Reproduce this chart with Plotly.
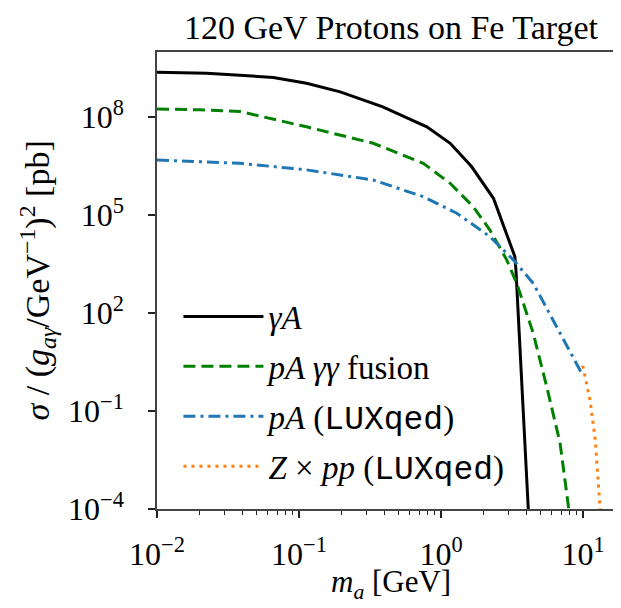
import plotly.graph_objects as go

# gamma A (photoproduction)
m_gammaA = [0.01, 0.0224, 0.066, 0.113, 0.195, 0.389, 0.794, 1.16, 1.64, 2.34, 3.31, 3.37, 4.23]
sig_gammaA = [2.4e9, 2.24e9, 1.66e9, 1.1e9, 6.0e8, 2.1e8, 5.1e7, 1.6e7, 3.1e6, 3.3e5, 5.4e3, 2.1e3, 1e-5]

# pA gamma-gamma fusion
m_pA_fus = [0.01, 0.02, 0.0385, 0.113, 0.333, 0.75, 1.16, 1.69, 2.21, 2.90, 3.41, 4.45, 5.55, 6.89, 7.89, 8.0]
sig_pA_fus = [1.8e8, 1.7e8, 1.5e8, 5.1e7, 1.6e7, 3.9e6, 9.5e5, 1.8e5, 3.5e4, 4.3e3, 830, 25, 0.56, 0.0105, 1.2e-4, 5e-5]

# pA (LUXqed)
m_pA_lux = [0.01, 0.0385, 0.113, 0.333, 0.75, 1.29, 2.21, 3.23, 4.47, 6.53, 8.55, 9.77]
sig_pA_lux = [4.9e6, 3.9e6, 2.45e6, 1.2e6, 3.7e5, 1.15e5, 2.2e4, 4.3e3, 810, 38, 4.7, 1.45]

# Z x pp (LUXqed)
m_Zpp = [9.95, 11.2, 12.2, 12.9, 13.2, 13.3]
sig_Zpp = [2.45, 0.22, 0.013, 4.8e-4, 1.5e-4, 6e-5]

x_ticks = [1e-2, 1e-1, 1, 10]
x_ticktext = ["10<sup>\u22122</sup>", "10<sup>\u22121</sup>", "10<sup>0</sup>", "10<sup>1</sup>"]
y_ticks = [1e-4, 1e-1, 1e2, 1e5, 1e8]
y_ticktext = ["10<sup>\u22124</sup>", "10<sup>\u22121</sup>", "10<sup>2</sup>", "10<sup>5</sup>", "10<sup>8</sup>"]

minor_x = [k * 10 ** e for e in range(-2, 2) for k in range(2, 10)]

SERIF = "Liberation Serif"
MONO = "Liberation Mono"
FS = 32

# page body has an 8px margin, so the figure is a bit smaller than the window
W, H = 605, 592
ML, MT, MB = 149, 44, 91
PW, PH = W - ML, H - MT - MB

def tt(s):
    return f"<span style='font-family:{MONO}'>{s}</span>"

fig = go.Figure()
fig.add_trace(go.Scatter(x=m_gammaA, y=sig_gammaA, mode="lines", name="<i>\u03b3A</i>",
                         line=dict(color="black", width=3), legendgroup="a"))
fig.add_trace(go.Scatter(x=m_pA_fus, y=sig_pA_fus, mode="lines", name="<i>pA \u03b3\u03b3</i> fusion",
                         line=dict(color="#008000", width=3, dash="12px,6px"), legendgroup="b"))
fig.add_trace(go.Scatter(x=m_pA_lux, y=sig_pA_lux, mode="lines", name="<i>pA</i> (" + tt("LUXqed") + ")",
                         line=dict(color="#1f77b4", width=3, dash="12px,5px,3px,5px"), legendgroup="c"))
fig.add_trace(go.Scatter(x=m_Zpp, y=sig_Zpp, mode="lines", name="<i>Z</i> \u00d7 <i>pp</i> (" + tt("LUXqed") + ")",
                         line=dict(color="#ff7f0e", width=3, dash="3px,5px"), legendgroup="d"))

axis_common = dict(type="log", showgrid=False, zeroline=False, showline=True, automargin=False,
                   linecolor="#444", linewidth=1.5, ticks="outside", ticklen=7,
                   tickwidth=1.5, tickcolor="#222", tickfont=dict(family=SERIF, size=FS, color="black"))

fig.update_xaxes(range=[-2, 1.211], tickvals=x_ticks, ticktext=x_ticktext, mirror=True,
                 ticklabelstandoff=9,
                 minor=dict(tickvals=minor_x, ticks="outside", ticklen=4, tickwidth=1, tickcolor="#222"),
                 **axis_common)
fig.update_yaxes(range=[-4, 10], tickvals=y_ticks, ticktext=y_ticktext, ticklabelstandoff=18,
                 **axis_common)

# axis titles as annotations so they sit where the original puts them
fig.add_annotation(text="<i>m<sub>a</sub></i> [GeV]", xref="paper", yref="paper",
                   x=(383 - ML) / PW, y=-(576 - MT - PH) / PH, xanchor="center", yanchor="middle",
                   showarrow=False, font=dict(family=SERIF, size=FS - 1, color="black"))
fig.add_annotation(text="<i>\u03c3</i> / (<i>g<sub>a\u03b3</sub></i>/GeV<sup>\u22121</sup>)<sup>2</sup> [pb]",
                   xref="paper", yref="paper", x=(29 - ML) / PW, y=0.5, xanchor="center", yanchor="middle",
                   textangle=-90, showarrow=False, font=dict(family=SERIF, size=FS + 2, color="black"))

fig.update_layout(
    width=W, height=H,
    margin=dict(l=ML, r=0, t=MT, b=MB),
    plot_bgcolor="white", paper_bgcolor="white",
    font=dict(family=SERIF, color="black"),
    title=dict(text="120 GeV Protons on Fe Target", font=dict(family=SERIF, size=FS + 2, color="black"),
               x=383 / W, xanchor="center", xref="container", y=1 - 19 / H, yanchor="middle"),
    legend=dict(x=0.047, y=0.4825, xanchor="left", yanchor="top", bgcolor="rgba(255,255,255,0)",
                font=dict(family=SERIF, size=FS + 1, color="black"), itemwidth=80, tracegroupgap=4),
)

fig.write_html("out.html")
